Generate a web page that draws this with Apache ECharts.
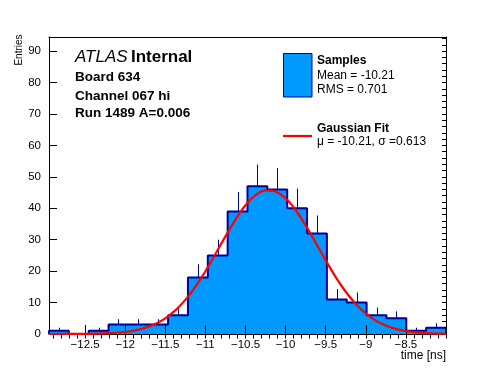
<!DOCTYPE html>
<html>
<head>
<meta charset="utf-8">
<script src="https://cdn.jsdelivr.net/npm/echarts@6/dist/echarts.min.js"></script>
<style>html,body{margin:0;padding:0;background:#fff;}#c{width:496px;height:372px;}</style>
</head>
<body>
<div id="c"></div>
<script>
// ---- data ----
const xMin = -12.95;
const xMax = -8.0;
const binWidth = 0.2475;
const counts = [1, 0, 1, 3, 3, 3, 6, 18, 25, 39, 47, 46, 40, 32, 11, 10, 6, 5, 1, 2];
const errors = [1, 0, 1, 1.7, 1.7, 1.7, 2.4, 4.2, 5, 6.2, 6.9, 6.8, 6.3, 5.7, 3.3, 3.2, 2.4, 2.2, 1, 1.4];
const fitX = [-12.95, -12.75, -12.5, -12.25, -12.0, -11.875, -11.75, -11.625, -11.5, -11.375, -11.25, -11.125,
  -11.0, -10.875, -10.75, -10.625, -10.5, -10.375, -10.25, -10.125, -10.0, -9.875, -9.75, -9.625,
  -9.5, -9.375, -9.25, -9.125, -9.0, -8.875, -8.75, -8.625, -8.5, -8.25, -8.0];
const fitY = [0, 0.01, 0.04, 0.18, 0.64, 1.14, 1.95, 3.19, 5.0, 7.53, 10.86, 15.03,
  19.96, 25.43, 31.07, 36.42, 40.95, 44.17, 45.7, 45.36, 43.19, 39.45, 34.56, 29.05,
  23.42, 18.11, 13.44, 9.56, 6.53, 4.27, 2.68, 1.62, 0.94, 0.28, 0.07];
const xMajorTicks = [-12.5, -12, -11.5, -11, -10.5, -10, -9.5, -9, -8.5];
const yMajorTicks = [0, 10, 20, 30, 40, 50, 60, 70, 80, 90];
const yMax = 94.5;

// ---- derived helpers ----
const xMinorTicks = [];
for (let v = -129; v <= -80; v++) xMinorTicks.push(v / 10);
const yMinorTicks = [];
for (let v = 0; v <= 94; v += 2) yMinorTicks.push(v);

const binData = counts.map((c, i) => [xMin + (i + 0.5) * binWidth, c, i]);
const outline = [];
counts.forEach((c, i) => {
  const lo = xMin + i * binWidth, hi = lo + binWidth;
  if (i === 0) outline.push([lo, 0]);
  outline.push([lo, c]);
  outline.push([hi, c]);
  if (i === counts.length - 1) outline.push([hi, 0]);
});
const errData = counts.map((c, i) => [xMin + (i + 0.5) * binWidth, c, errors[i]]);
const fitData = fitX.map((x, i) => [x, fitY[i]]);

const FONT = '"Liberation Sans", Arial, Helvetica, sans-serif';
const FILL = '#0099ff';
const LINE = '#000099';

const chart = echarts.init(document.getElementById('c'), null, {renderer: 'canvas'});
const minusFmt = v => String(v).replace('-', '\u2212');

chart.setOption({
  animation: false,
  backgroundColor: '#fff',
  grid: {left: 49, right: 50, top: 37, bottom: 38, show: false},
  xAxis: [
    {type: 'value', min: xMin, max: xMax, z: 5,
     axisLine: {show: true, onZero: false, lineStyle: {color: '#000', width: 1}},
     axisTick: {show: true, inside: true, length: 9, customValues: xMajorTicks, lineStyle: {color: '#000', width: 1}},
     axisLabel: {show: true, customValues: xMajorTicks, formatter: minusFmt, color: '#000', fontFamily: FONT, fontSize: 11.5, margin: 5},
     splitLine: {show: false}},
    {type: 'value', min: xMin, max: xMax, z: 5,
     axisLine: {show: false},
     axisTick: {show: true, inside: true, length: 4.5, customValues: xMinorTicks, lineStyle: {color: '#000', width: 1}},
     axisLabel: {show: false}, splitLine: {show: false}},
    {type: 'value', min: xMin, max: xMax, position: 'top', z: 5,
     axisLine: {show: true, onZero: false, lineStyle: {color: '#000', width: 1}},
     axisTick: {show: false}, axisLabel: {show: false}, splitLine: {show: false}}
  ],
  yAxis: [
    {type: 'value', min: 0, max: yMax, z: 5,
     axisLine: {show: true, onZero: false, lineStyle: {color: '#000', width: 1}},
     axisTick: {show: true, inside: true, length: 8, customValues: yMajorTicks, lineStyle: {color: '#000', width: 1}},
     axisLabel: {show: true, customValues: yMajorTicks, color: '#000', fontFamily: FONT, fontSize: 11.5, margin: 8},
     splitLine: {show: false}},
    {type: 'value', min: 0, max: yMax, z: 5,
     axisLine: {show: false},
     axisTick: {show: true, inside: true, length: 4, customValues: yMinorTicks, lineStyle: {color: '#000', width: 1}},
     axisLabel: {show: false}, splitLine: {show: false}},
    {type: 'value', min: 0, max: yMax, position: 'right', z: 5,
     axisLine: {show: true, onZero: false, lineStyle: {color: '#000', width: 1}},
     axisTick: {show: false}, axisLabel: {show: false}, splitLine: {show: false}}
  ],
  series: [
    {type: 'custom', xAxisIndex: 0, yAxisIndex: 0, z: 2, data: binData,
     encode: {x: 0, y: 1},
     renderItem: function (params, api) {
       const i = api.value(2);
       const c = api.value(1);
       const lo = xMin + i * binWidth, hi = lo + binWidth;
       const p0 = api.coord([lo, c]);
       const p1 = api.coord([hi, 0]);
       const x0 = Math.round(p0[0]), x1 = Math.round(p1[0]);
       return {type: 'rect', shape: {x: x0, y: p0[1], width: x1 - x0, height: p1[1] - p0[1]},
               style: {fill: FILL, stroke: null}};
     }},
    {type: 'line', xAxisIndex: 0, yAxisIndex: 0, z: 3, data: outline, showSymbol: false, symbol: 'none',
     lineStyle: {color: LINE, width: 2}, clip: false},
    {type: 'custom', xAxisIndex: 0, yAxisIndex: 0, z: 3, data: errData,
     encode: {x: 0, y: 1},
     renderItem: function (params, api) {
       const x = api.value(0), c = api.value(1), e = api.value(2);
       if (c <= 0) return null;
       const a = api.coord([x, c]);
       const b = api.coord([x, c + e]);
       return {type: 'line', shape: {x1: Math.round(a[0]) + 0.5, y1: a[1], x2: Math.round(a[0]) + 0.5, y2: b[1]},
               style: {stroke: LINE, lineWidth: 1}};
     }},
    {type: 'line', xAxisIndex: 0, yAxisIndex: 0, z: 6, data: fitData, showSymbol: false, symbol: 'none',
     smooth: 0.3, lineStyle: {color: '#ff0000', width: 2.2}, clip: false}
  ],
  graphic: [
    {type: 'text', left: 75, top: 49, z: 20,
     style: {text: '{a|ATLAS} {b|Internal}', rich: {
       a: {fontFamily: FONT, fontStyle: 'italic', fontSize: 17, fill: '#000'},
       b: {fontFamily: FONT, fontWeight: 'bold', fontSize: 17, fill: '#000'}}}},
    {type: 'text', x: 75, y: 77, z: 20, style: {text: 'Board 634', font: 'bold 13.5px ' + FONT, fill: '#000', textVerticalAlign: 'middle'}},
    {type: 'text', x: 75, y: 96.5, z: 20, style: {text: 'Channel 067 hi', font: 'bold 13.5px ' + FONT, fill: '#000', textVerticalAlign: 'middle'}},
    {type: 'text', x: 75, y: 113.5, z: 20, style: {text: 'Run 1489 A=0.006', font: 'bold 13.5px ' + FONT, fill: '#000', textVerticalAlign: 'middle'}},
    {type: 'rect', z: 20, shape: {x: 283.5, y: 53.5, width: 28.5, height: 43.5}, style: {fill: FILL, stroke: LINE, lineWidth: 1}},
    {type: 'text', x: 317, y: 61, z: 20, style: {text: 'Samples', font: 'bold 12px ' + FONT, fill: '#000', textVerticalAlign: 'middle'}},
    {type: 'text', x: 317, y: 76, z: 20, style: {text: 'Mean = -10.21', font: '12px ' + FONT, fill: '#000', textVerticalAlign: 'middle'}},
    {type: 'text', x: 317, y: 90, z: 20, style: {text: 'RMS = 0.701', font: '12px ' + FONT, fill: '#000', textVerticalAlign: 'middle'}},
    {type: 'line', z: 20, shape: {x1: 283, y1: 136, x2: 312, y2: 136}, style: {stroke: '#ff0000', lineWidth: 2.2}},
    {type: 'text', x: 317, y: 129, z: 20, style: {text: 'Gaussian Fit', font: 'bold 12px ' + FONT, fill: '#000', textVerticalAlign: 'middle'}},
    {type: 'text', x: 317, y: 142, z: 20, style: {text: '\u03bc = -10.21, \u03c3 =0.613', font: '12px ' + FONT, fill: '#000', textVerticalAlign: 'middle'}},
    {type: 'text', x: 19, y: 50, rotation: Math.PI / 2, z: 20,
     style: {text: 'Entries', font: '10px ' + FONT, fill: '#000', textAlign: 'center', textVerticalAlign: 'middle'}},
    {type: 'text', x: 446, y: 356, z: 20,
     style: {text: 'time [ns]', font: '12px ' + FONT, fill: '#000', textAlign: 'right', textVerticalAlign: 'middle'}}
  ]
});
</script>
</body>
</html>
